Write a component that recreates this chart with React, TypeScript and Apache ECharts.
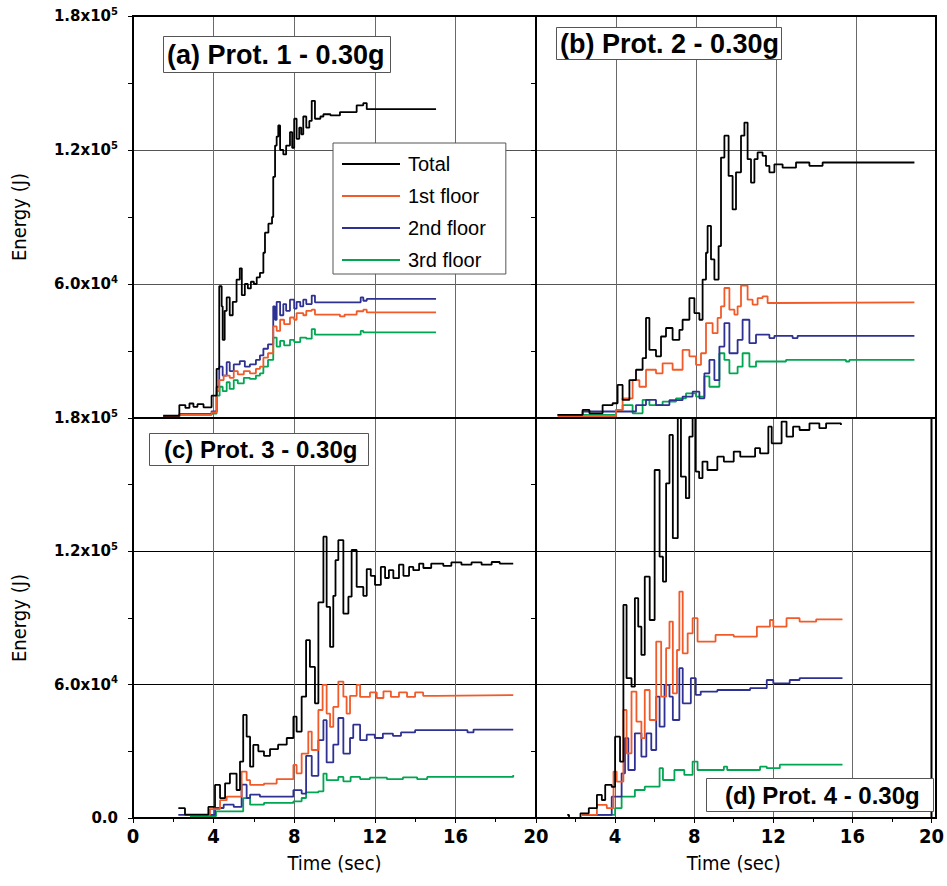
import React, { useEffect, useRef } from 'react';
import * as echarts from 'echarts';

// Energy values in kJ (axis labels convert to J); time in seconds.
const SERIES_NAMES = ['Total', '1st floor', '2nd floor', '3rd floor'];
const SERIES_COLORS = ['#000000', '#f15a29', '#2e3192', '#00a651'];
const PANEL_TITLES = ['(a) Prot. 1 - 0.30g', '(b) Prot. 2 - 0.30g', '(c) Prot. 3 - 0.30g', '(d) Prot. 4 - 0.30g'];
const X_TICKS = [0, 4, 8, 12, 16, 20];
const Y_TICKS_KJ = [0, 60, 120, 180];

// Panel (a) Prot. 1
const A_TOTAL = [[1.5,1],[2.3,5.8],[2.6,4.5],[2.8,6.5],[3.0,5],[3.2,6.2],[3.5,4.8],[3.9,10],[4.15,22],[4.28,59],[4.4,50],[4.45,35],[4.55,48],[4.65,54],[4.8,46],[4.95,52],[5.14,62],[5.3,67],[5.4,55],[5.55,60],[5.7,58],[5.85,61],[6.0,60],[6.14,63],[6.3,65],[6.47,74],[6.55,83],[6.72,87],[6.9,90],[6.96,108],[7.05,122],[7.13,126],[7.21,131],[7.3,120],[7.46,118],[7.6,122],[7.79,128],[7.9,121],[8.0,134],[8.12,125],[8.25,130],[8.35,127],[8.45,135],[8.6,130],[8.75,133],[8.87,142],[9.03,134],[9.3,135],[9.45,136],[9.8,135.5],[10.27,137],[11.1,140],[11.43,141],[11.6,138.3],[15.04,138.3]];
const A_FLOOR1 = [[1.5,0.8],[2.3,1.5],[3.9,2.5],[4.15,12],[4.28,17],[4.5,19],[4.8,18],[5.0,21],[5.2,19.5],[5.5,21],[5.8,20],[6.1,22],[6.3,23],[6.47,27],[6.7,29],[6.96,41],[7.13,39],[7.3,44],[7.5,42],[7.79,45],[8.0,44],[8.12,47],[8.45,46],[8.6,48],[8.87,48.5],[9.03,46.3],[10.2,46.3],[10.27,45.5],[10.5,46.3],[11.1,47.8],[11.43,48.5],[11.6,47.3],[15.04,47.3]];
const A_FLOOR2 = [[1.5,0.8],[2.3,1.8],[3.9,3],[4.15,14],[4.28,23],[4.45,19],[4.65,25],[4.8,21],[5.0,24],[5.3,25.5],[5.55,23],[5.8,24],[6.1,26],[6.3,28],[6.47,31],[6.7,33],[6.96,50],[7.05,44],[7.13,52],[7.3,46],[7.46,51],[7.6,48],[7.79,53],[8.0,49],[8.12,52],[8.3,50],[8.45,53],[8.6,51],[8.87,54.8],[9.03,51.8],[11.1,51.8],[11.3,54],[11.43,52.5],[11.6,53.3],[15.04,53.3]];
const A_FLOOR3 = [[1.5,0.6],[2.3,1.4],[3.9,2],[4.15,10],[4.3,14],[4.45,12],[4.65,16],[4.8,13],[5.0,17],[5.2,15.5],[5.5,18],[5.8,17.5],[6.1,19],[6.3,20],[6.47,23],[6.7,26],[6.96,36],[7.13,32],[7.3,34.5],[7.5,32.5],[7.79,35],[8.0,34],[8.3,36],[8.6,35.5],[8.87,39.8],[9.03,37.3],[11.1,37.3],[11.3,39],[11.43,38.3],[15.04,38.3]];

// Panel (b) Prot. 2
const B_TOTAL = [[1.08,1.4],[2.33,3.6],[2.67,2.1],[3.33,5.8],[3.83,6.6],[4.08,14.8],[4.33,8.1],[4.67,17],[5.0,21.6],[5.33,26.8],[5.5,44.8],[5.67,30.5],[6.0,27.6],[6.25,36.5],[6.5,40.3],[6.83,35],[7.17,39.5],[7.33,44],[7.67,53.7],[7.92,47],[8.17,44],[8.33,62],[8.5,74],[8.58,86],[8.75,71],[8.92,62],[9.13,77],[9.25,116.6],[9.42,126.4],[9.63,108.4],[9.83,93.4],[10.0,110],[10.25,126.4],[10.42,132.3],[10.58,115.9],[10.75,105.4],[10.92,115.9],[11.08,118.9],[11.33,117.4],[11.5,112.9],[11.67,110],[11.92,113.6],[12.33,112.1],[13.0,114.4],[13.67,112.9],[14.33,114.4],[18.92,114.7]];
const B_FLOOR1 = [[1.08,0.8],[4.0,3.6],[4.33,8.8],[4.83,17],[5.17,14],[5.5,21.6],[6.0,20],[6.33,24.5],[6.83,21.6],[7.33,30.5],[7.67,27.6],[8.0,23.8],[8.25,29],[8.5,42.5],[8.83,38],[9.08,44.8],[9.25,50],[9.42,58.2],[9.67,48.5],[9.92,46.3],[10.08,50],[10.25,59.3],[10.58,53],[10.83,50.8],[11.08,53.7],[11.33,54.5],[11.58,51.5],[11.92,51.8],[18.92,51.8]];
const B_FLOOR2 = [[1.08,1.4],[2.33,2.9],[5.0,5.8],[5.5,8.1],[6.0,5.8],[6.67,8],[7.33,9.6],[7.83,11.8],[8.17,8.8],[8.42,20],[8.67,26],[8.92,17],[9.17,32],[9.42,42.5],[9.67,29],[10.08,35],[10.33,44],[10.67,33.5],[11.0,37.3],[11.67,35.8],[11.92,36.8],[12.83,35.8],[13.08,36.8],[18.92,36.8]];
const B_FLOOR3 = [[1.08,1.4],[4.0,3.6],[4.33,5.8],[4.83,2.1],[5.33,8.1],[5.67,5.8],[6.33,7.3],[7.0,8.8],[7.5,11],[8.0,9.6],[8.42,18.6],[8.67,14],[9.17,29],[9.42,26],[9.67,20],[10.08,23],[10.33,29],[10.67,23],[11.0,25.3],[12.5,26],[15.5,25.3],[15.67,26],[18.92,26]];

// Panel (c) Prot. 3
const C_TOTAL = [[2.25,4.4],[2.58,1.5],[3.74,5],[4.07,14.9],[4.32,8.9],[4.57,15.6],[4.81,20],[5.14,12.6],[5.31,25.4],[5.47,46.4],[5.64,36.6],[5.81,23.1],[5.97,32.9],[6.22,30],[6.5,28],[6.8,31],[7.2,33],[7.63,36],[7.96,45.6],[8.12,38.9],[8.37,54.6],[8.59,80],[8.78,68],[9.03,51.6],[9.2,97],[9.45,126.6],[9.61,95],[9.78,77],[9.94,100],[10.05,116],[10.19,125],[10.44,92],[10.69,99.6],[10.85,120.6],[11.1,104],[11.43,100],[11.6,112],[11.8,109],[12.01,104.9],[12.3,113],[12.51,108],[12.7,111.5],[12.92,107.9],[13.2,114],[13.42,109],[13.7,113],[13.91,111.5],[14.2,114.5],[14.41,112.5],[14.8,114.5],[15.4,113.5],[15.8,115],[16.3,114],[16.8,115],[17.3,114],[17.8,115.2],[18.2,114.5],[18.87,114.5]];
const C_FLOOR1 = [[2.83,1.4],[3.82,4],[4.32,8],[4.65,9.6],[5.39,20.9],[5.64,17],[5.81,14.9],[6.5,15.5],[7.13,17.5],[7.96,23.9],[8.12,20.1],[8.37,29],[8.7,38.9],[8.87,30.6],[9.2,48.6],[9.41,59.9],[9.61,47],[9.78,41],[9.94,50],[10.19,61.4],[10.44,54.6],[10.6,47],[10.77,55],[11.1,59.9],[11.27,54.5],[11.76,56.5],[12.1,54],[12.43,57],[12.8,54.5],[13.2,56.5],[13.6,54.5],[14.0,56.5],[14.4,55],[15.07,55.3],[18.87,55.3]];
const C_FLOOR2 = [[2.25,1.4],[4.07,4.5],[4.5,6],[5.0,5],[5.39,15],[5.64,9],[5.81,10.5],[6.3,9.6],[7.96,12.5],[8.37,11],[8.59,28],[8.87,19],[9.2,35],[9.45,44],[9.61,25],[9.94,33],[10.19,45],[10.44,29],[10.77,36],[10.93,42],[11.27,35],[11.6,37.5],[12.0,36],[12.4,38],[12.9,37],[13.3,38.5],[14.0,39.5],[15.5,39.5],[16.6,38.5],[16.9,39.8],[18.87,39.8]];
const C_FLOOR3 = [[2.83,0.8],[4.12,3],[5.47,8.9],[5.81,6],[6.5,6.8],[7.96,7.5],[8.37,9],[8.59,11.5],[9.2,12],[9.45,20],[9.61,17],[10.19,18.5],[10.44,16.5],[10.8,18.5],[11.27,17.5],[11.76,18.2],[12.6,17.5],[13.4,18.3],[14.1,17.5],[14.6,18.5],[18.87,19.3]];

// Panel (d) Prot. 4
const D_TOTAL = [[1.58,1.4],[1.67,0],[2.25,2.1],[2.67,4.4],[3.08,10.4],[3.33,8.1],[3.5,14.9],[3.83,14],[4.0,36.6],[4.25,25.4],[4.42,95.9],[4.58,62.9],[4.83,59.1],[5.0,98.9],[5.17,86.1],[5.33,73.4],[5.5,108.6],[5.75,89.1],[6.0,156.6],[6.25,117.6],[6.42,106.4],[6.58,150.6],[6.75,172.4],[6.92,125.9],[7.17,180],[7.33,153.6],[7.58,143.9],[7.75,171.6],[7.92,180],[8.08,155.9],[8.25,152.9],[8.42,160.4],[8.67,156.6],[9.17,162.6],[9.5,160.4],[10.0,164.9],[10.33,162.6],[11.08,166.4],[11.33,164.1],[11.75,176.1],[11.92,168.6],[12.42,178.4],[12.67,171.6],[13.0,176.1],[13.33,174.6],[13.83,177.6],[14.33,175.4],[14.67,177.6],[15.42,176.9]];
const D_FLOOR1 = [[2.33,1.4],[3.08,5.9],[3.58,4.4],[3.92,20.9],[4.08,16.4],[4.42,48.6],[4.58,29.1],[4.83,56.9],[5.08,43.4],[5.33,35.9],[5.5,57.6],[5.75,44.1],[6.08,79.4],[6.33,54.6],[6.58,76.4],[6.75,88.4],[6.92,56.1],[7.13,75.6],[7.25,101.9],[7.42,74.1],[7.67,83.1],[7.92,89.9],[8.17,79.4],[9.08,82.4],[10.0,81.6],[11.17,86.1],[11.83,89.1],[12.0,86.1],[12.67,89.9],[13.33,88.4],[14.17,89.4],[15.5,89.4]];
const D_FLOOR2 = [[2.33,1.4],[3.83,9.6],[4.33,20.1],[4.5,35.9],[4.67,21.6],[5.0,38.1],[5.33,27.6],[5.58,38.1],[5.83,30.6],[6.08,54.6],[6.25,41.1],[6.5,59.9],[6.75,54.6],[6.92,44.1],[7.25,67.4],[7.42,51.6],[7.83,62.9],[8.08,55.4],[8.33,56.9],[9.17,57.6],[10.83,58.4],[11.67,62.1],[12.0,60.6],[12.83,62.1],[13.33,62.9],[15.5,62.9]];
const D_FLOOR3 = [[2.5,1.4],[4.0,4.4],[4.33,9.6],[5.0,12.6],[5.5,14.1],[6.25,22.4],[6.42,17.1],[7.0,21.6],[7.5,19.4],[7.92,25.4],[8.17,21.6],[9.5,23.1],[9.67,21.6],[11.33,23.1],[11.67,22.4],[12.33,24],[15.5,24]];

const PANEL_DATA = [
  [A_TOTAL, A_FLOOR1, A_FLOOR2, A_FLOOR3],
  [B_TOTAL, B_FLOOR1, B_FLOOR2, B_FLOOR3],
  [C_TOTAL, C_FLOOR1, C_FLOOR2, C_FLOOR3],
  [D_TOTAL, D_FLOOR1, D_FLOOR2, D_FLOOR3],
];

const GRIDS = [
  { left: 133, top: 16, width: 403, height: 402 },
  { left: 536, top: 16, width: 400, height: 402 },
  { left: 133, top: 418, width: 403, height: 400 },
  { left: 536, top: 418, width: 400, height: 400 },
];

const TITLE_POS = [
  { left: 163, top: 36, fontSize: 27, lineHeight: 29, padding: [4, 6, 4, 4] },
  { left: 556, top: 27, fontSize: 27, lineHeight: 27, padding: [3, 3, 3, 4] },
  { left: 149, top: 433, fontSize: 24, lineHeight: 27, padding: [3, 11, 3, 15] },
  { left: 706, top: 778, fontSize: 24, lineHeight: 28, padding: [3, 14, 3, 19] },
];

const NARROW = "'Liberation Sans Narrow', 'DejaVu Sans Condensed', 'Liberation Sans', sans-serif";

const yLabel = (vKJ: number) => {
  if (vKJ === 0) return '{b|0.0}';
  const v = vKJ * 1000;
  const e = Math.floor(Math.log10(v) + 1e-9);
  const m = v / Math.pow(10, e);
  return `{b|${m.toFixed(1)}x10}{s|${e}}`;
};

function buildOption() {
  const grid = GRIDS.map((g) => ({
    ...g,
    show: true,
    borderColor: '#000',
    borderWidth: 2,
    backgroundColor: 'transparent',
    containLabel: false,
  }));

  const xAxis = GRIDS.map((_, p) => ({
    gridIndex: p,
    type: 'value',
    min: X_TICKS[0],
    max: X_TICKS[X_TICKS.length - 1],
    interval: X_TICKS[1] - X_TICKS[0],
    axisLine: { show: true, onZero: false, lineStyle: { color: '#000', width: 2 } },
    axisTick: { show: p >= 2, length: 5, lineStyle: { color: '#000', width: 1 } },
    minorTick: { show: p >= 2, splitNumber: 2, length: 4, lineStyle: { color: '#000', width: 1 } },
    splitLine: { show: true, showMinLine: false, showMaxLine: false, lineStyle: { color: '#6a6a6a', width: 1 } },
    minorSplitLine: { show: false },
    axisLabel: {
      show: p >= 2,
      showMinLabel: p === 2,
      margin: 8,
      color: '#000',
      fontFamily: NARROW,
      fontWeight: 'bold',
      fontSize: 20,
    },
    name: p >= 2 ? 'Time (sec)' : '',
    nameLocation: 'middle',
    nameGap: 35,
    nameTextStyle: { color: '#000', fontFamily: NARROW, fontSize: 20 },
  }));

  const yAxis = GRIDS.map((_, p) => ({
    gridIndex: p,
    type: 'value',
    min: Y_TICKS_KJ[0],
    max: Y_TICKS_KJ[Y_TICKS_KJ.length - 1],
    interval: Y_TICKS_KJ[1] - Y_TICKS_KJ[0],
    axisLine: { show: true, onZero: false, lineStyle: { color: '#000', width: 2 } },
    axisTick: { show: true, length: 5, lineStyle: { color: '#000', width: 1 } },
    minorTick: { show: true, splitNumber: 2, length: 5, lineStyle: { color: '#000', width: 1 } },
    splitLine: { show: true, showMinLine: false, showMaxLine: false, lineStyle: { color: p < 2 ? '#555' : '#000', width: 1 } },
    axisLabel: {
      show: p === 0 || p === 2,
      showMinLabel: p === 2,
      margin: 15,
      formatter: (v: number) => yLabel(v),
      rich: {
        b: { fontFamily: "'DejaVu Sans', sans-serif", fontWeight: 'bold', fontSize: 15, color: '#000', lineHeight: 20 },
        s: { fontFamily: "'DejaVu Sans', sans-serif", fontWeight: 'bold', fontSize: 10, color: '#000', lineHeight: 10, verticalAlign: 'top' },
      },
    },
    name: p === 0 || p === 2 ? 'Energy (J)' : '',
    nameLocation: 'middle',
    nameRotate: 90,
    nameGap: 104,
    nameTextStyle: { color: '#000', fontFamily: NARROW, fontSize: 20 },
  }));

  const series: any[] = [];
  PANEL_DATA.forEach((panel, p) => {
    panel.forEach((data, s) => {
      series.push({
        name: SERIES_NAMES[s],
        type: 'line',
        xAxisIndex: p,
        yAxisIndex: p,
        step: 'end',
        symbol: 'none',
        data,
        z: 10 - s,
        lineStyle: { color: SERIES_COLORS[s], width: 1.8 },
        itemStyle: { color: SERIES_COLORS[s] },
      });
    });
  });

  const title = PANEL_TITLES.map((t, i) => ({
    text: t,
    left: TITLE_POS[i].left,
    top: TITLE_POS[i].top,
    padding: TITLE_POS[i].padding,
    borderColor: '#555',
    borderWidth: 1,
    backgroundColor: '#fff',
    textStyle: {
      fontFamily: "'Liberation Sans', Arial, sans-serif",
      fontWeight: 'bold',
      fontSize: TITLE_POS[i].fontSize,
      lineHeight: TITLE_POS[i].lineHeight,
      color: '#000',
    },
  }));

  // Outer frame and panel dividers drawn on top, from the grid layout.
  const L = GRIDS[0].left, T = GRIDS[0].top;
  const R = GRIDS[1].left + GRIDS[1].width, B = GRIDS[2].top + GRIDS[2].height;
  const MX = GRIDS[1].left, MY = GRIDS[2].top;
  const frameStyle = { stroke: '#000', lineWidth: 2, fill: 'none' };
  const graphic = [
    { type: 'rect', silent: true, z: 50, shape: { x: L, y: T, width: R - L, height: B - T }, style: frameStyle },
    { type: 'line', silent: true, z: 50, shape: { x1: MX, y1: T, x2: MX, y2: B }, style: frameStyle },
    { type: 'line', silent: true, z: 50, shape: { x1: L, y1: MY, x2: R, y2: MY }, style: frameStyle },
  ];

  return {
    animation: false,
    backgroundColor: '#fff',
    title,
    legend: {
      data: SERIES_NAMES,
      orient: 'vertical',
      left: 333,
      top: 143,
      padding: [11, 20, 4, 9],
      itemGap: 12,
      itemWidth: 58,
      itemHeight: 14,
      icon: 'path://M0,0L58,0L58,2L0,2Z',
      symbolKeepAspect: true,
      borderColor: '#555',
      borderWidth: 1,
      backgroundColor: '#fff',
      selectedMode: false,
      textStyle: {
        fontFamily: "'Liberation Sans', Arial, sans-serif",
        fontSize: 20,
        color: '#000',
        padding: [0, 0, 0, 3],
      },
    },
    grid,
    xAxis,
    yAxis,
    series,
    graphic,
  };
}

export default function App() {
  const ref = useRef<HTMLDivElement>(null);
  useEffect(() => {
    document.body.style.margin = '0';
    if (!ref.current) return;
    const chart = echarts.init(ref.current, null, { renderer: 'svg' });
    chart.setOption(buildOption() as any);
    return () => chart.dispose();
  }, []);
  return <div ref={ref} style={{ width: 947, height: 886 }} />;
}
